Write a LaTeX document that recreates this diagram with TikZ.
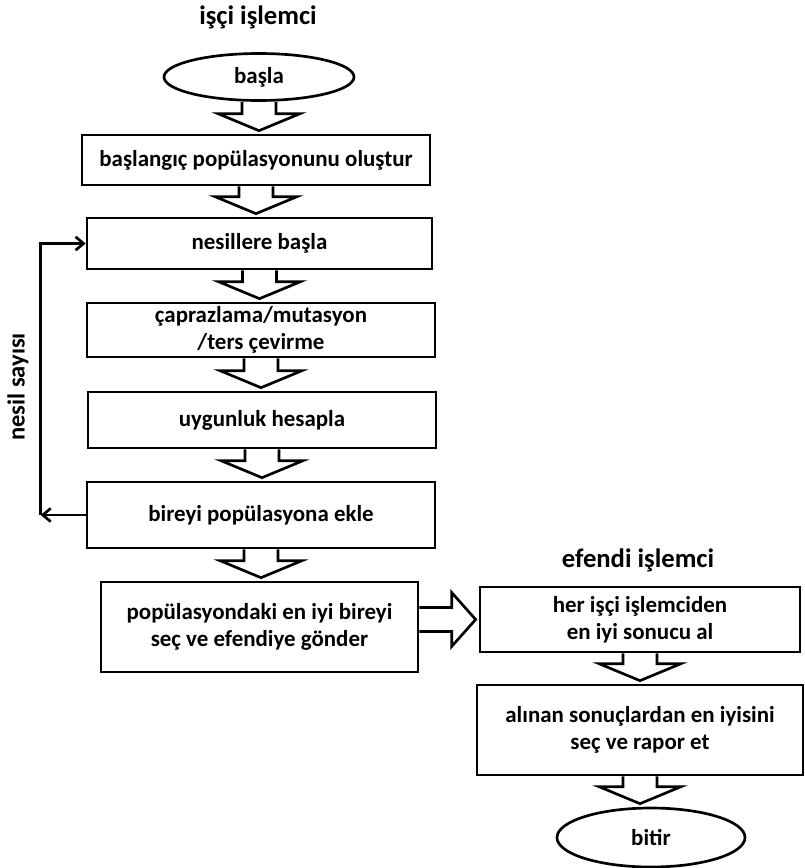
\documentclass[tikz,border=0pt]{standalone}
\usepackage{fontspec}
\setmainfont{Carlito}
\usetikzlibrary{calc,arrows.meta,shapes.geometric}

% hollow block arrows between boxes
\newcommand{\fatdown}[2]{%
	\path (#1.south) coordinate (a) (#1.south |- #2.north) ++(0,-3) coordinate (t);
	\draw [fatarrow] ($(a)+(-17,0)$) -- ($(t)+(-17,-17)$) -- ($(t)+(-41,-17)$) -- (t)
		-- ($(t)+(41,-17)$) -- ($(t)+(17,-17)$) -- ($(a)+(17,0)$);
}
\newcommand{\fatright}[2]{%
	\path (#1.east |- #2.west) coordinate (a) (#2.west) ++(-3,0) coordinate (t);
	\draw [fatarrow] ($(a)+(0,-12)$) -- ($(t)+(-24,-12)$) -- ($(t)+(-24,-27)$) -- (t)
		-- ($(t)+(-24,27)$) -- ($(t)+(-24,12)$) -- ($(a)+(0,12)$);
}

\begin{document}
\begin{tikzpicture}[x=0.75pt,y=-0.75pt,
	every node/.style={font=\fontsize{17.2}{20.5}\selectfont\bfseries},
	title/.style={font=\fontsize{20}{24}\selectfont\bfseries},
	box/.style={draw,line width=2pt,inner sep=0pt,align=center},
	oval/.style={draw,ellipse,line width=2pt,inner sep=0pt},
	fatarrow/.style={line width=2pt,line join=miter},
	loop/.style={line width=2pt,-{Straight Barb[length=6pt,width=10pt,line width=2pt]}}]
\useasboundingbox (0,0) rectangle (805,868);
	\node [title] at (258,17) (t1) {işçi işlemci};
	\node [title] at (638,560) (t2) {efendi işlemci};
	\node [oval,minimum width=142.5pt,minimum height=35.25pt] at (259,77) (1) {başla};
	\node [box,minimum width=261pt,minimum height=37.5pt] at (256,160) (2) {başlangıç popülasyonunu oluştur};
	\node [box,minimum width=258.75pt,minimum height=38.25pt] at (259.5,243.5) (3) {nesillere başla};
	\node [box,minimum width=261pt,minimum height=40.5pt] at (261,330) (4) {çaprazlama/mutasyon\\/ters çevirme};
	\node [box,minimum width=261pt,minimum height=42pt] at (262,420) (5) {uygunluk hesapla};
	\node [box,minimum width=261pt,minimum height=49.5pt] at (261,515) (6) {bireyi popülasyona ekle};
	\node [box,minimum width=237.75pt,minimum height=67.5pt] at (259.5,627) (7) {popülasyondaki en iyi bireyi\\seç ve efendiye gönder};
	\node [box,minimum width=240pt,minimum height=48.75pt] at (640,619.5) (8) {her işçi işlemciden\\en iyi sonucu al};
	\node [box,minimum width=244.5pt,minimum height=67.5pt] at (640,730) (9) {alınan sonuçlardan en iyisini\\seç ve rapor et};
	\node [oval,minimum width=141pt,minimum height=44.25pt] at (651,837.5) (10) {bitir};
	\node [rotate=90,font=\fontsize{18.4}{22}\selectfont\bfseries] at (18,387) (n) {nesil sayısı};
	\fatdown{1}{2}
	\fatdown{2}{3}
	\fatdown{3}{4}
	\fatdown{4}{5}
	\fatdown{5}{6}
	\fatdown{6}{7}
	\fatright{7}{8}
	\fatdown{8}{9}
	\fatdown{9}{10}
	\draw [loop] (6.west) -- ++(-45,0) coordinate (c);
	\draw [loop] (c) |- (3.west);
\end{tikzpicture}
\end{document}
